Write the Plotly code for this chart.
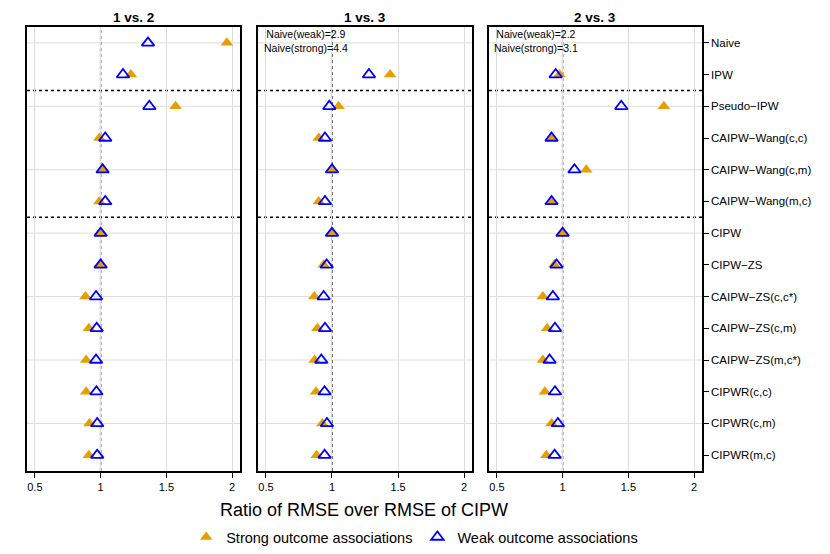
import plotly.graph_objects as go

# methods, top to bottom
methods = ["Naive", "IPW", "Pseudo−IPW", "CAIPW−Wang(c,c)", "CAIPW−Wang(c,m)",
           "CAIPW−Wang(m,c)", "CIPW", "CIPW−ZS", "CAIPW−ZS(c,c*)", "CAIPW−ZS(c,m)",
           "CAIPW−ZS(m,c*)", "CIPWR(c,c)", "CIPWR(c,m)", "CIPWR(m,c)"]
group_sizes = [2, 4, 8]
panels = ["1 vs. 2", "1 vs. 3", "2 vs. 3"]

# ratio of RMSE over RMSE of CIPW
strong_12 = [1.96, 1.23, 1.57, 0.99, 1.02, 0.99, 1.00, 0.995, 0.885, 0.91, 0.89, 0.89, 0.915, 0.91]
weak_12 = [1.36, 1.17, 1.37, 1.035, 1.015, 1.035, 1.00, 1.00, 0.965, 0.97, 0.965, 0.968, 0.974, 0.974]
strong_13 = [4.4, 1.44, 1.05, 0.90, 1.005, 0.90, 1.00, 0.937, 0.866, 0.89, 0.869, 0.879, 0.927, 0.884]
weak_13 = [2.9, 1.28, 0.98, 0.947, 1.00, 0.947, 1.00, 0.96, 0.937, 0.947, 0.919, 0.944, 0.962, 0.944]
strong_23 = [3.1, 0.977, 1.77, 0.912, 1.18, 0.914, 1.00, 0.937, 0.85, 0.883, 0.85, 0.865, 0.916, 0.876]
weak_23 = [2.2, 0.947, 1.446, 0.916, 1.09, 0.916, 1.00, 0.954, 0.926, 0.942, 0.901, 0.942, 0.964, 0.939]

strong = [strong_12, strong_13, strong_23]
weak = [weak_12, weak_13, weak_23]

ORANGE = "#E69F00"
BLUE = "#0000FF"
FONT = "Liberation Sans"
XMIN, XMAX = 0.44, 2.06

n = len(methods)
ypos = [n - i for i in range(n)]
domains = [[0, 0.3156], [0.3422, 0.6593], [0.6844, 1]]


def clip(vals):
    return [v if XMIN <= v <= XMAX else None for v in vals]


fig = go.Figure()
shapes = []
annotations = []

for k, title in enumerate(panels):
    xa = "x" if k == 0 else "x%d" % (k + 1)
    ya = "y" if k == 0 else "y%d" % (k + 1)
    fig.add_trace(go.Scatter(x=clip(strong[k]), y=ypos, xaxis=xa, yaxis=ya, mode="markers",
                             name="Strong outcome associations", showlegend=(k == 0),
                             marker=dict(symbol="triangle-up", size=11, color=ORANGE,
                                         line=dict(width=0))))
    fig.add_trace(go.Scatter(x=clip(weak[k]), y=ypos, xaxis=xa, yaxis=ya, mode="markers",
                             name="Weak outcome associations", showlegend=(k == 0),
                             marker=dict(symbol="triangle-up-open", size=11, color=BLUE,
                                         line=dict(width=1.8, color=BLUE))))

    fig.layout[xa.replace("x", "xaxis")] = dict(
        domain=domains[k], range=[XMIN, XMAX], anchor=ya, automargin=False,
        tickvals=[0.5, 1, 1.5, 2], ticktext=["0.5", "1", "1.5", "2"],
        ticks="outside", ticklen=5, tickcolor="black", tickwidth=1,
        showgrid=True, gridcolor="#DCDCDC", gridwidth=1, zeroline=False,
        showline=True, mirror=True, linecolor="black", linewidth=1.5,
        tickfont=dict(size=11, color="black"))
    ycfg = dict(range=[0.5, n + 0.5], anchor=xa, showgrid=False, zeroline=False,
                automargin=False,
                showline=True, mirror=True, linecolor="black", linewidth=1.5)
    if k == 2:
        ycfg.update(side="right", tickvals=ypos, ticktext=methods, ticks="outside",
                    ticklen=5, tickcolor="black", tickfont=dict(size=11.5, color="black"))
    else:
        ycfg.update(showticklabels=False, ticks="")
    fig.layout[ya.replace("y", "yaxis")] = ycfg

    # horizontal grid every other row
    for i in range(0, n, 2):
        shapes.append(dict(type="line", xref=xa + " domain", yref=ya, x0=0, x1=1,
                           y0=ypos[i], y1=ypos[i], layer="below",
                           line=dict(color="#DCDCDC", width=1)))
    # group separators
    acc = 0
    for g in group_sizes[:-1]:
        acc += g
        shapes.append(dict(type="line", xref=xa + " domain", yref=ya, x0=0, x1=1,
                           y0=n - acc + 0.5, y1=n - acc + 0.5, layer="below",
                           line=dict(color="black", width=1.5, dash="dot")))
    # reference line at 1
    shapes.append(dict(type="line", xref=xa, yref=ya + " domain", x0=1, x1=1, y0=0, y1=1,
                       layer="below", line=dict(color="#444444", width=1.5, dash="dot")))

    annotations.append(dict(text="<b>%s</b>" % title, xref=xa + " domain", yref="paper",
                            x=0.5, y=1, yanchor="bottom", yshift=1, borderpad=0,
                            showarrow=False, font=dict(size=13.5, color="black")))
    if strong[k][0] > XMAX or weak[k][0] > XMAX:
        annotations.append(dict(text="Naive(weak)=%s<br>Naive(strong)=%s" % (weak[k][0], strong[k][0]),
                                xref=xa, yref=ya + " domain", x=0.8, y=1, yanchor="top",
                                xanchor="center", yshift=1, showarrow=False, align="center",
                                font=dict(size=10.5, color="black")))

annotations.append(dict(text="Ratio of RMSE over RMSE of CIPW", xref="paper", yref="paper",
                        x=0.499, y=-0.088, yanchor="middle", showarrow=False,
                        font=dict(size=18, color="black")))

fig.update_layout(
    width=830, height=554,
    margin=dict(l=19, r=136, t=19, b=91, autoexpand=False),
    plot_bgcolor="white", paper_bgcolor="white",
    font=dict(family=FONT, color="black"),
    shapes=shapes, annotations=annotations,
    legend=dict(orientation="h", x=0.49, xanchor="center", xref="container",
                y=0.045, yanchor="middle", yref="container",
                font=dict(size=14.5), itemwidth=30, tracegroupgap=0),
)

fig.write_html("out.html")
